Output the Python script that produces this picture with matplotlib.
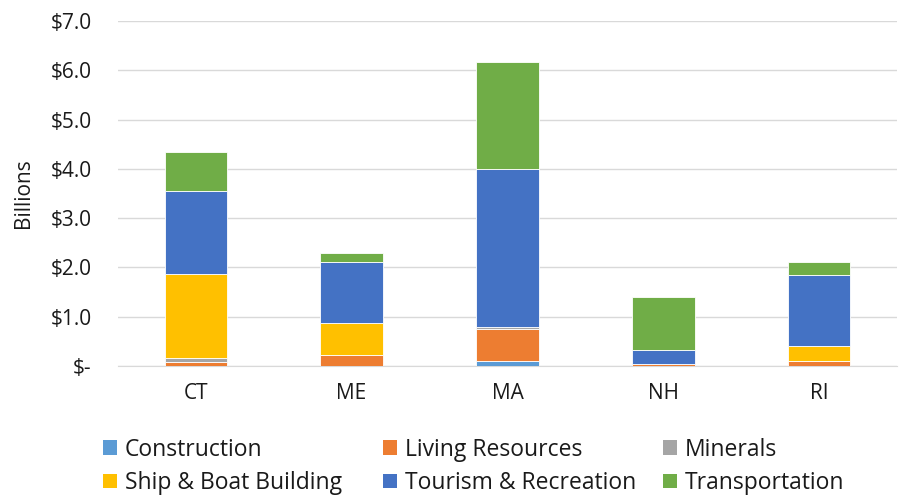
import matplotlib
matplotlib.use("Agg")
import matplotlib.pyplot as plt
import numpy as np
from matplotlib.ticker import FuncFormatter

states = ["CT", "ME", "MA", "NH", "RI"]
construction = [0.01, 0.0, 0.10, 0.0, 0.0]
living_resources = [0.07, 0.22, 0.65, 0.04, 0.10]
minerals = [0.09, 0.0, 0.05, 0.0, 0.01]
ship_boat = [1.69, 0.66, 0.0, 0.0, 0.30]
tourism = [1.69, 1.22, 3.20, 0.29, 1.44]
transportation = [0.79, 0.20, 2.17, 1.06, 0.25]

series = [
    ("Construction", construction, "#5B9BD5"),
    ("Living Resources", living_resources, "#ED7D31"),
    ("Minerals", minerals, "#A5A5A5"),
    ("Ship & Boat Building", ship_boat, "#FFC000"),
    ("Tourism & Recreation", tourism, "#4472C4"),
    ("Transportation", transportation, "#70AD47"),
]

plt.rcParams['font.family'] = ['Open Sans', 'DejaVu Sans']
text_color = "#1a1a1a"

fig = plt.figure(figsize=(8.99, 4.95), dpi=100)
ax = fig.add_axes([0.131, 0.2606, 0.867, 0.697])

x = np.arange(len(states))
bottom = np.zeros(len(states))
handles = []
for name, vals, color in series:
    vals = np.array(vals)
    b = ax.bar(x, vals, 0.4, bottom=bottom, color=color, label=name,
               edgecolor="white", linewidth=0.6, zorder=3)
    handles.append(b)
    bottom += vals

ax.set_xlim(-0.5, len(states) - 0.5)
ax.set_ylim(0, 7)
ax.set_yticks(np.arange(0, 8, 1))
ax.yaxis.set_major_formatter(FuncFormatter(
    lambda v, p: r"\$-" if v == 0 else r"\${:.1f}".format(v)))
ax.set_xticks(x)
ax.set_xticklabels(states)
ax.grid(axis="y", color="#D9D9D9", linewidth=1, zorder=0)
for s in ["top", "right", "left"]:
    ax.spines[s].set_visible(False)
ax.spines["bottom"].set_color("#D9D9D9")
ax.tick_params(length=0, labelsize=15, colors=text_color, pad=12)
ax.tick_params(axis="y", pad=19)
ax.set_ylabel("Billions", fontsize=15, color=text_color, labelpad=12)

# legend: three columns, row-major order as in the original
names = [s[0] for s in series]
col_x = [0.1146, 0.426, 0.7375]
for i, cx in enumerate(col_x):
    idx = [i, i + 3]
    leg = fig.legend([handles[j] for j in idx], [names[j] for j in idx],
                     loc="center left", bbox_to_anchor=(cx, 0.058),
                     frameon=False, fontsize=16.5, handlelength=0.6,
                     handleheight=0.6, handletextpad=0.35,
                     labelspacing=0.4, borderpad=0, borderaxespad=0,
                     labelcolor=text_color)
    for p in leg.get_patches():
        p.set_edgecolor("none")

fig.savefig("out.png", dpi=100)
